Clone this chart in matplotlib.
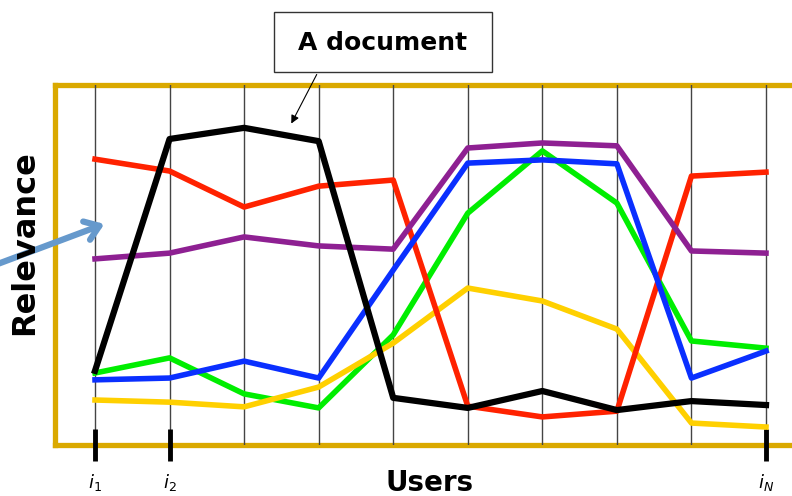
import matplotlib.pyplot as plt
import numpy as np

# users on the x axis, relevance (0-100) of each document per user
users = np.arange(1, 11)
tick_users = [1, 2, 10]
tick_labels = ["$i_1$", "$i_2$", "$i_N$"]

green = [20.0, 24.2, 14.2, 10.3, 30.6, 64.4, 81.7, 67.2, 28.9, 26.9]
yellow = [12.5, 11.9, 10.6, 16.1, 28.3, 43.6, 40.0, 32.2, 6.1, 5.0]
red = [79.4, 76.1, 66.1, 71.9, 73.6, 10.8, 7.8, 9.4, 74.7, 75.8]
purple = [51.7, 53.3, 57.8, 55.3, 54.4, 82.5, 83.9, 83.1, 53.9, 53.3]
blue = [18.1, 18.6, 23.3, 18.6, 48.6, 78.3, 79.2, 78.1, 18.6, 26.1]
black = [20.6, 85.0, 88.1, 84.4, 13.1, 10.3, 15.0, 9.7, 12.2, 11.1]

W, H = 792, 496
fig = plt.figure(figsize=(W / 100, H / 100), dpi=100)

# axes frame in pixels: left 55, bottom 445, top 85, right runs off the figure
ax = fig.add_axes([55 / W, (H - 445) / H, (830 - 55) / W, 360 / H])
step = (766 - 95) / 9
ax.set_xlim(1 - (95 - 55) / step, 10 + (830 - 766) / step)
ax.set_ylim(0, 100)

gold = "#daa900"
for s in ax.spines.values():
    s.set_color(gold)
    s.set_linewidth(3.8)
    s.set_zorder(1)

for u in users:
    ax.axvline(u, color="#444444", lw=1, zorder=1.5)

ax.plot(users, green, color="#00ee00", lw=4, zorder=3)
ax.plot(users, yellow, color="#ffd000", lw=4, zorder=3)
ax.plot(users, red, color="#ff2200", lw=4, zorder=3)
ax.plot(users, purple, color="#8e2092", lw=4, zorder=3)
ax.plot(users, blue, color="#0a2fff", lw=4, zorder=3)
ax.plot(users, black, color="black", lw=4.5, zorder=3)

ax.set_yticks([])
ax.set_xticks(tick_users)
ax.set_xticklabels(tick_labels, fontsize=13)
ax.tick_params(axis="x", direction="inout", length=23, width=3.5, color="black", pad=8)

fig.text(430 / W, 1 - 483 / H, "Users", fontsize=20, fontweight="bold", ha="center", va="center")
fig.text(25 / W, 1 - 243 / H, "Relevance", fontsize=23, fontweight="bold", rotation=90,
         ha="center", va="center")

# callout box
box = plt.Rectangle((274 / W, 1 - 72 / H), (492 - 274) / W, 60 / H, transform=fig.transFigure,
                    facecolor="white", edgecolor="#333333", lw=1)
fig.patches.append(box)
fig.text(383 / W, 1 - 43 / H, "A document", fontsize=18, fontweight="bold", ha="center", va="center")
ax.annotate("", xy=(290, H - 126), xycoords="figure pixels", xytext=(318, H - 72),
            textcoords="figure pixels",
            arrowprops=dict(arrowstyle="-|>", color="black", lw=0.8, mutation_scale=12))

# blue pointer arrow from the left
ax.annotate("", xy=(107, H - 223), xycoords="figure pixels", xytext=(-5, H - 265),
            textcoords="figure pixels",
            arrowprops=dict(arrowstyle="->,head_length=0.7,head_width=0.5", color="#6699cc",
                            lw=4.5, mutation_scale=14), zorder=10, annotation_clip=False)

fig.savefig("out.png", dpi=100)
